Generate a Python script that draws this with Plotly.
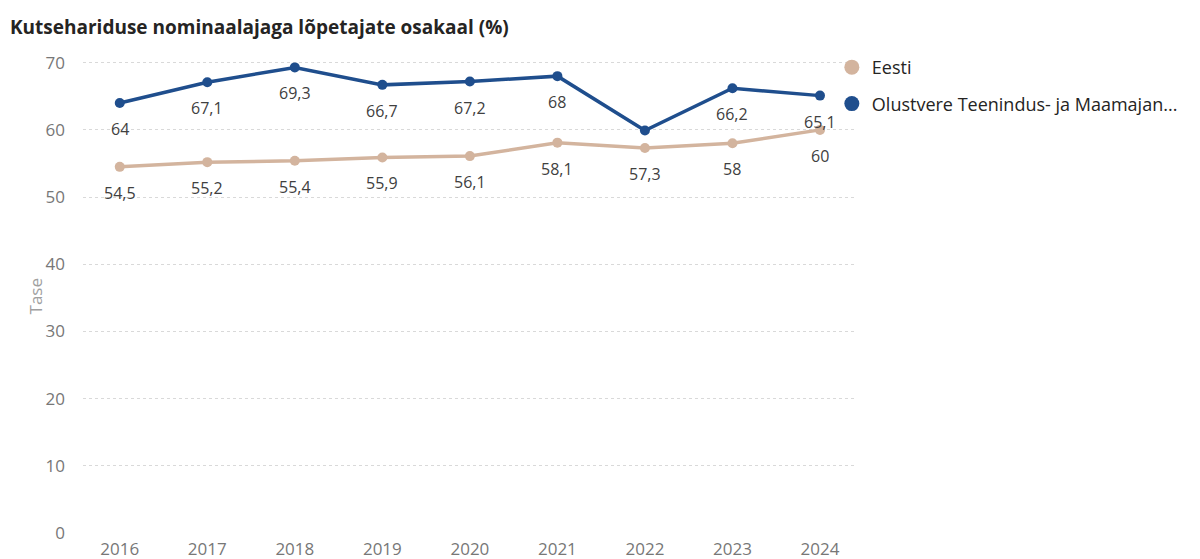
import plotly.graph_objects as go

years = [2016, 2017, 2018, 2019, 2020, 2021, 2022, 2023, 2024]
eesti = [54.5, 55.2, 55.4, 55.9, 56.1, 58.1, 57.3, 58.0, 60.0]
olustvere = [64.0, 67.1, 69.3, 66.7, 67.2, 68.0, 59.9, 66.2, 65.1]
# label shown in reference (2022 Olustvere label hidden due to overlap)
olustvere_show = [True, True, True, True, True, True, False, True, True]

legend_names = ["Eesti", "Olustvere Teenindus- ja Maamajan..."]
c_eesti = "#D3B49E"
c_olu = "#1F4E8D"

def fmt(v):
    s = ("%.1f" % v).rstrip("0").rstrip(".")
    return s.replace(".", ",")

fig = go.Figure()
for ys, col in [(eesti, c_eesti), (olustvere, c_olu)]:
    fig.add_trace(go.Scatter(x=years, y=ys, mode="lines+markers",
                             line=dict(color=col, width=3.5),
                             marker=dict(color=col, size=10),
                             showlegend=False, hoverinfo="x+y"))
# legend-only marker entries
for i, (name, col) in enumerate(zip(legend_names, [c_eesti, c_olu])):
    fig.add_trace(go.Scatter(x=[None], y=[None], mode="markers", name=name,
                             marker=dict(color=col, size=15),
                             legendgroup="g%d" % i, showlegend=True))

annotations = []
for ys, shows in [(eesti, [True] * len(eesti)), (olustvere, olustvere_show)]:
    for x, y, s in zip(years, ys, shows):
        if not s:
            continue
        annotations.append(dict(x=x, y=y, xref="x", yref="y", text=fmt(y),
                                showarrow=False, yshift=-26,
                                font=dict(size=16, color="#404040")))
annotations.append(dict(x=-0.079, y=0.497, xref="paper", yref="paper",
                        text="Tase", textangle=-90, showarrow=False,
                        font=dict(size=17, color="#A0A0A0")))

fig.update_layout(
    width=1192, height=551,
    paper_bgcolor="white", plot_bgcolor="white",
    font=dict(family="Segoe UI, Open Sans, sans-serif"),
    margin=dict(l=75, r=345, t=50, b=26),
    title=dict(text="<b>Kutsehariduse nominaalajaga lõpetajate osakaal (%)</b>",
               x=2 / 1192, xanchor="left", y=1 - 19 / 551, yanchor="middle",
               font=dict(size=19, color="#252423")),
    annotations=annotations,
    legend=dict(x=0.970, xanchor="left", y=1.019, yanchor="top",
                font=dict(size=18, color="#252423"),
                tracegroupgap=10, itemwidth=30, bgcolor="rgba(0,0,0,0)"),
    xaxis=dict(range=[2015.58, 2024.4], tickvals=years,
               ticktext=[str(y) for y in years], showgrid=False,
               zeroline=False, showline=False, automargin=False,
               tickfont=dict(size=17, color="#777777"), ticklen=0,
               ticklabelstandoff=4),
    yaxis=dict(range=[0, 70.7], tickvals=[0, 10, 20, 30, 40, 50, 60, 70],
               showgrid=True, gridcolor="#D9D9D9", griddash="dot", gridwidth=1,
               zeroline=False, showline=False, automargin=False,
               tickfont=dict(size=17, color="#777777"), ticklabelstandoff=17),
)
fig.write_html("out.html")
